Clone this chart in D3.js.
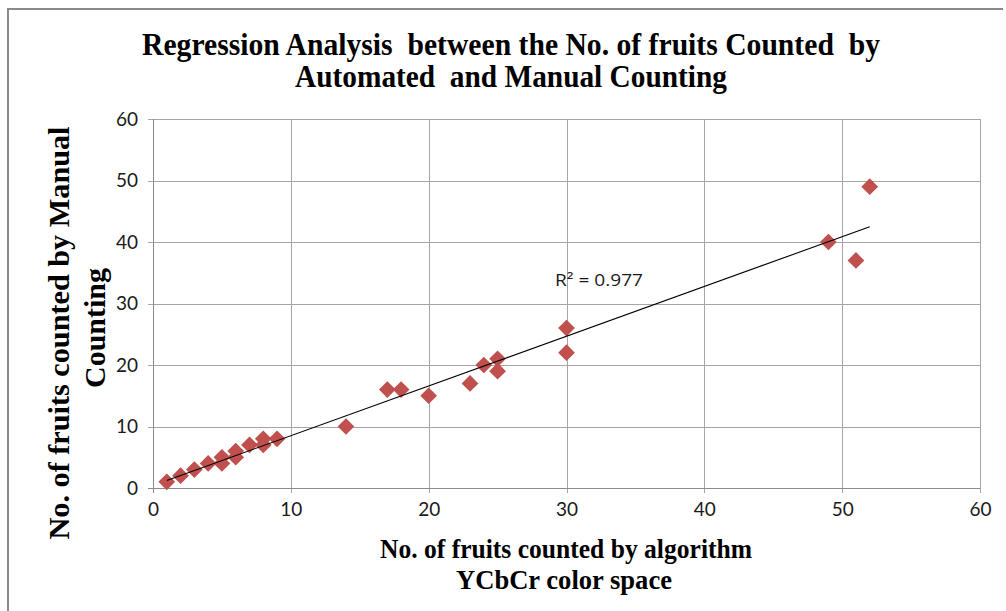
<!DOCTYPE html>
<html>
<head>
<meta charset="utf-8">
<script src="https://cdn.jsdelivr.net/npm/d3@7"></script>
<style>
  html, body { margin: 0; padding: 0; background: #fff; }
  svg { display: block; }
  text.keep-spaces { white-space: pre; }
</style>
</head>
<body>
<svg id="chart" width="1006" height="611"></svg>
<script>
// Fruit counts: algorithm (YCbCr colour space) vs. manual counting
const algorithmCounts = [1, 2, 3, 4, 5, 5, 6, 6, 7, 8, 8, 9, 14, 17, 18, 20, 23, 24, 25, 25, 30, 30, 49, 51, 52];
const manualCounts    = [1, 2, 3, 4, 5, 4, 6, 5, 7, 8, 7, 8, 10, 16, 16, 15, 17, 20, 21, 19, 26, 22, 40, 37, 49];
const xTicks = [0, 10, 20, 30, 40, 50, 60];
const yTicks = [0, 10, 20, 30, 40, 50, 60];
const rSquaredLabel = "R² = 0.977";
const titleLines = ["Regression Analysis  between the No. of fruits Counted  by", "Automated  and Manual Counting"];
const xTitleLines = ["No. of fruits counted by algorithm", "YCbCr color space"];
const yTitleLines = ["No. of fruits counted by Manual", "Counting"];

const points = algorithmCounts.map((x, i) => ({ x, y: manualCounts[i] }));

const svg = d3.select("#chart");
const plot = { left: 153, right: 980, top: 119, bottom: 488 };

const x = d3.scaleLinear().domain([0, 60]).range([plot.left, plot.right]);
const y = d3.scaleLinear().domain([0, 60]).range([plot.bottom, plot.top]);

// outer chart frame (left and top edges)
svg.append("path")
  .attr("d", "M8,611 L8,9 L1003,9")
  .attr("fill", "none")
  .attr("stroke", "#8a8a8a")
  .attr("stroke-width", 2);

const tickFont = "Lato, 'Open Sans', sans-serif";

// horizontal gridlines, drawn from the right edge so they extend past the left axis as ticks
const yAxis = svg.append("g")
  .attr("transform", `translate(${plot.right},0)`)
  .call(d3.axisLeft(y).tickValues(yTicks).tickSize(plot.right - plot.left + 5).tickPadding(10).tickFormat(d3.format("d")));
yAxis.select(".domain").remove();
yAxis.selectAll(".tick line").attr("stroke", "#a6a6a6").attr("shape-rendering", "crispEdges");
yAxis.selectAll(".tick text").attr("font-family", tickFont).attr("font-size", 19).attr("fill", "#1a1a1a");

// vertical gridlines, drawn from the top so they extend below the bottom axis as ticks
const xAxis = svg.append("g")
  .attr("transform", `translate(0,${plot.top})`)
  .call(d3.axisBottom(x).tickValues(xTicks).tickSize(plot.bottom - plot.top + 5).tickPadding(10).tickFormat(d3.format("d")));
xAxis.select(".domain").remove();
xAxis.selectAll(".tick line").attr("stroke", "#a6a6a6").attr("shape-rendering", "crispEdges");
xAxis.selectAll(".tick text").attr("font-family", tickFont).attr("font-size", 19).attr("fill", "#1a1a1a");

// axis lines
svg.append("line")
  .attr("x1", x(0)).attr("x2", x(0)).attr("y1", y(60)).attr("y2", y(0) + 5)
  .attr("stroke", "#8c8c8c").attr("shape-rendering", "crispEdges");
svg.append("line")
  .attr("x1", x(0) - 5).attr("x2", x(60)).attr("y1", y(0)).attr("y2", y(0))
  .attr("stroke", "#8c8c8c").attr("shape-rendering", "crispEdges");

// least-squares linear trendline over the data range
const mx = d3.mean(points, d => d.x);
const my = d3.mean(points, d => d.y);
const slope = d3.sum(points, d => (d.x - mx) * (d.y - my)) / d3.sum(points, d => (d.x - mx) ** 2);
const intercept = my - slope * mx;
const [xMin, xMax] = d3.extent(points, d => d.x);

// markers: diamonds (squares rotated 45°)
const diamond = d3.symbol().type(d3.symbolSquare).size(140);
svg.append("g")
  .selectAll("path")
  .data(points)
  .join("path")
  .attr("d", diamond)
  .attr("transform", d => `translate(${x(d.x)},${y(d.y)}) rotate(45)`)
  .attr("fill", "#c0504d");

svg.append("line")
  .attr("x1", x(xMin)).attr("y1", y(slope * xMin + intercept))
  .attr("x2", x(xMax)).attr("y2", y(slope * xMax + intercept))
  .attr("stroke", "#000")
  .attr("stroke-width", 1.1);

// R² annotation
svg.append("text")
  .attr("x", 555).attr("y", 286)
  .attr("font-family", "'Open Sans', sans-serif").attr("font-size", 17).attr("fill", "#1a1a1a")
  .attr("textLength", 88).attr("lengthAdjust", "spacingAndGlyphs")
  .text(rSquaredLabel);

// titles (bold serif, condensed)
const serif = "'Liberation Serif', 'Times New Roman', serif";
const title = [
  { text: titleLines[0], x: 511, y: 55, len: 738, size: 31 },
  { text: titleLines[1], x: 511, y: 87, len: 432, size: 31 }
];
svg.selectAll("text.title")
  .data(title)
  .join("text")
  .attr("class", "title keep-spaces")
  .attr("x", d => d.x).attr("y", d => d.y)
  .attr("text-anchor", "middle")
  .attr("font-family", serif).attr("font-weight", "bold").attr("font-size", d => d.size)
  .attr("textLength", d => d.len).attr("lengthAdjust", "spacingAndGlyphs")
  .attr("fill", "#000")
  .text(d => d.text);

const xTitle = [
  { text: xTitleLines[0], x: 566, y: 558, len: 372 },
  { text: xTitleLines[1], x: 564, y: 589, len: 216 }
];
svg.selectAll("text.xtitle")
  .data(xTitle)
  .join("text")
  .attr("class", "xtitle keep-spaces")
  .attr("x", d => d.x).attr("y", d => d.y)
  .attr("text-anchor", "middle")
  .attr("font-family", serif).attr("font-weight", "bold").attr("font-size", 27)
  .attr("textLength", d => d.len).attr("lengthAdjust", "spacingAndGlyphs")
  .attr("fill", "#000")
  .text(d => d.text);

const yTitle = [
  { text: yTitleLines[0], cx: 69, cy: 333, len: 413 },
  { text: yTitleLines[1], cx: 105, cy: 328, len: 120 }
];
svg.selectAll("text.ytitle")
  .data(yTitle)
  .join("text")
  .attr("class", "ytitle keep-spaces")
  .attr("transform", d => `translate(${d.cx},${d.cy}) rotate(-90)`)
  .attr("text-anchor", "middle")
  .attr("font-family", serif).attr("font-weight", "bold").attr("font-size", 29)
  .attr("textLength", d => d.len).attr("lengthAdjust", "spacingAndGlyphs")
  .attr("fill", "#000")
  .text(d => d.text);
</script>
</body>
</html>
